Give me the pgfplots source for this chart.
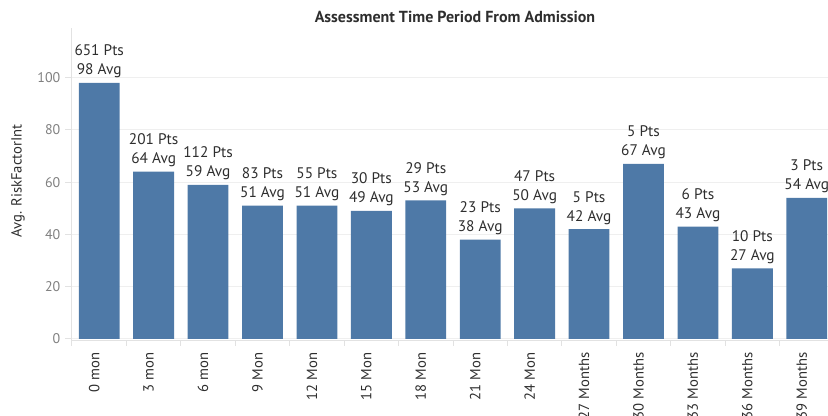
\documentclass[border=0pt]{standalone}
\usepackage{pgfplots}
\pgfplotsset{compat=1.18}
\usepackage{pgfplotstable}
\usepackage{fontspec}
\setmainfont{PT Sans}
\definecolor{barblue}{HTML}{4E79A7}
\definecolor{txt}{HTML}{2E2E2E}
\definecolor{ticktxt}{HTML}{7F7F7F}
\definecolor{gridc}{HTML}{EFEFEF}
\definecolor{axc}{HTML}{E2E2E2}

\pgfplotstableread{
x avg pts
0 98 651
1 64 201
2 59 112
3 51 83
4 51 55
5 49 30
6 53 29
7 38 23
8 50 47
9 42 5
10 67 5
11 43 6
12 27 10
13 54 3
}\datatable

\begin{document}
\begin{tikzpicture}
\useasboundingbox (0,0) rectangle (621pt,312pt);
\begin{axis}[
  at={(54pt,56.25pt)}, anchor=south west, scale only axis,
  width=571.5pt, height=234.75pt,
  xmin=-0.5, xmax=13.5, ymin=-0.8, ymax=119,
  ybar, bar width=0.75,
  axis x line*=bottom, axis y line*=left,
  axis line style={draw=axc, line width=0.75pt, -},
  tick align=outside,
  major tick length=5.25pt,
  minor tick length=3.75pt,
  xtick={0,...,13},
  xticklabels={0 mon,3 mon,6 mon,9 Mon,12 Mon,15 Mon,18 Mon,21 Mon,24 Mon,27 Months,30 Months,33 Months,36 Months,39 Months},
  xtick style={draw=none},
  minor xtick={-0.5,0.5,...,13.5},
  minor x tick style={draw=axc, line width=0.75pt},
  x tick label style={rotate=90, anchor=east, yshift=3.75pt, font=\fontsize{11}{13}\selectfont, text=txt},
  ytick={0,20,...,100},
  ytick style={draw=axc, line width=0.75pt},
  y tick label style={font=\fontsize{10.5}{12}\selectfont, text=ticktxt},
  /pgf/number format/assume math mode=true,
  ymajorgrids, grid style={draw=gridc, line width=0.75pt},
  ylabel={Avg. RiskFactorInt},
  every axis y label/.style={at={(axis description cs:-0.0709,0.511)}, rotate=90, anchor=center, font=\fontsize{11}{12}\selectfont, text=txt},
  clip=false,
]
\addplot[fill=barblue, draw=none,
  visualization depends on={\thisrow{pts}\as\pts},
  visualization depends on={\thisrow{avg}\as\avg},
  nodes near coords={\pgfmathprintnumber[fixed,precision=0]{\pts} Pts\\\pgfmathprintnumber[fixed,precision=0]{\avg} Avg},
  every node near coord/.append style={align=center, font=\fontsize{11.5}{14.25}\selectfont, text=txt, /pgf/number format/assume math mode=true},
] table[x=x,y=avg]{\datatable};
\end{axis}
\node[font=\fontsize{12}{13}\selectfont\bfseries, text=txt] at (341.25pt,299.25pt) {Assessment Time Period From Admission};
\end{tikzpicture}
\end{document}
